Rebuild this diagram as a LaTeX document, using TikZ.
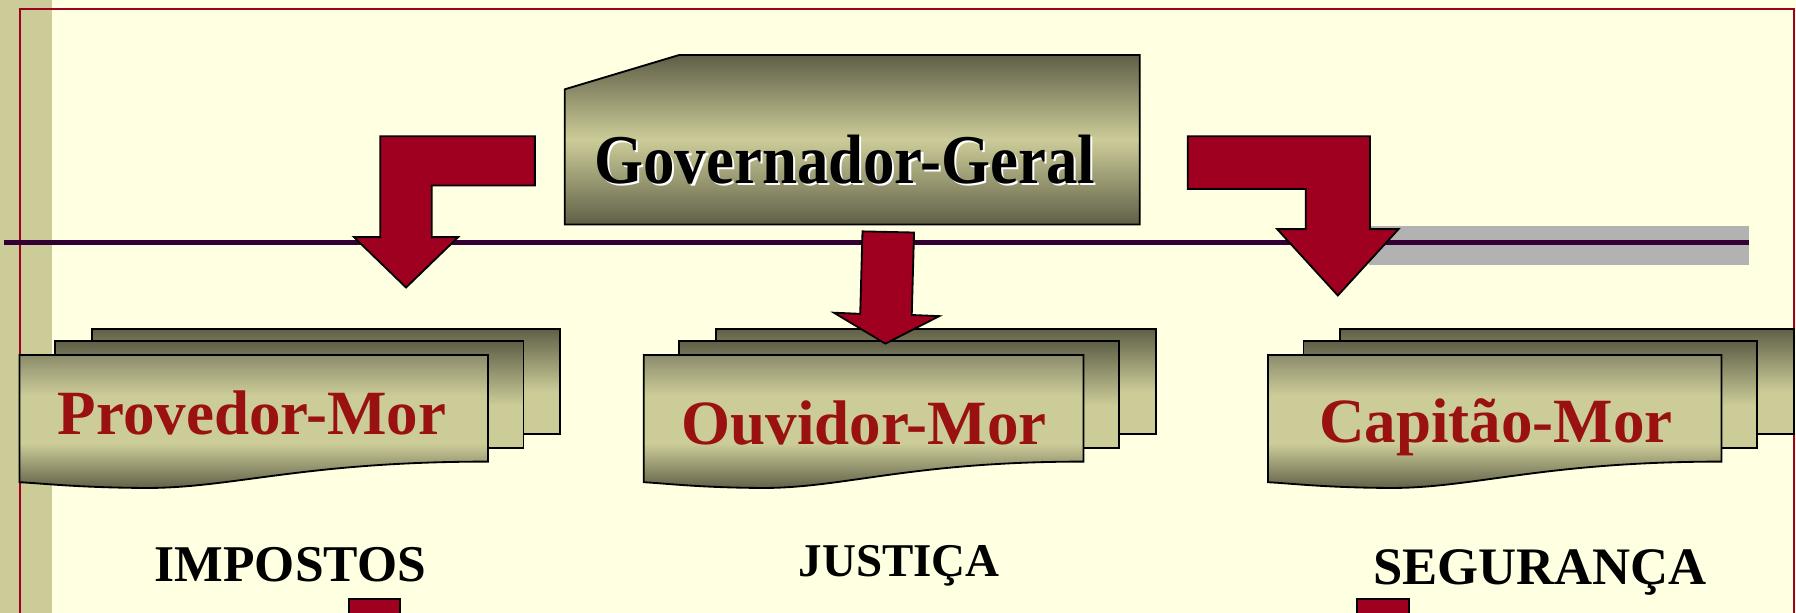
\documentclass[tikz,border=0pt]{standalone}
\usepackage{fontspec}
\setmainfont{Liberation Serif}
\newfontfamily\govfont[FakeStretch=0.9]{Liberation Serif}

\definecolor{bgyellow}{RGB}{255,255,225}
\definecolor{stripbeige}{RGB}{204,204,153}
\definecolor{framered}{RGB}{160,0,32}
\definecolor{linepurple}{RGB}{51,0,51}
\definecolor{bargray}{RGB}{178,178,178}
\definecolor{arrowred}{RGB}{160,0,32}
\definecolor{labelred}{RGB}{153,17,17}
\definecolor{olivedark}{RGB}{95,95,71}
\definecolor{olivelight}{RGB}{204,204,153}
\definecolor{olivemid}{RGB}{140,140,108}

\pgfdeclareverticalshading{govshade}{100bp}{color(0bp)=(olivedark); color(25bp)=(olivedark); color(50bp)=(olivelight); color(75bp)=(olivedark); color(100bp)=(olivedark)}
\pgfdeclareverticalshading{docshade}{100bp}{color(0bp)=(olivedark); color(25bp)=(olivedark); color(42bp)=(olivelight); color(60bp)=(olivelight); color(75bp)=(olivemid); color(100bp)=(olivemid)}
\pgfdeclareverticalshading{backshade}{100bp}{color(0bp)=(olivelight); color(25bp)=(olivelight); color(45bp)=(olivelight); color(75bp)=(olivedark); color(100bp)=(olivedark)}

\tikzset{
  boxline/.style={draw=black, line width=1.6pt},
  govbox/.style={boxline, shade, shading=govshade},
  backbox/.style={boxline, shade, shading=backshade},
  docbox/.style={boxline, shade, shading=docshade},
  bigarrow/.style={fill=arrowred, draw=black, line width=1.6pt},
  office/.style={anchor=base, text=labelred, font=\fontsize{55}{55}\selectfont\bfseries},
  duty/.style={anchor=base, font=\fontsize{45}{45}\selectfont\bfseries},
}

% three stacked sheets: left x of the front sheet, width
\newcommand{\officestack}[2]{
  \draw[backbox] ({#1+63},287) rectangle ({#1+63+#2},379);
  \draw[backbox] ({#1+31},298) rectangle ({#1+31+#2},391);
  \draw[docbox] (#1,310) -- ({#1+#2},310) -- ({#1+#2},403)
    .. controls ({#1+0.6*#2},403) and ({#1+0.45*#2},427) .. ({#1+0.26*#2},426)
    .. controls ({#1+0.12*#2},425.5) and ({#1+0.05*#2},422) .. (#1,421) -- cycle;
}

\begin{document}
\begin{tikzpicture}[x=1pt, y=-1pt]
  \fill[bgyellow] (0,0) rectangle (1568,535);
  \useasboundingbox (0,0) rectangle (1568,535);
  \fill[stripbeige] (0,0) rectangle (45,535);
  \draw[framered, line width=1.8pt] (17.5,560) -- (17.5,7.5) -- (1566.5,7.5) -- (1566.5,560);

  % divider
  \fill[bargray] (1195,197) rectangle (1527,231);
  \draw[linepurple, line width=4pt] (3.5,211.5) -- (1527,211.5);

  % top box
  \draw[govbox] (493,78) -- (593,48) -- (995,48) -- (995,196) -- (493,196) -- cycle;
  \node[anchor=base, text=white, font=\govfont\fontsize{61}{61}\selectfont\bfseries] (govshadow) at (739.5,162) {Governador-Geral};
  \node[anchor=base, font=\govfont\fontsize{61}{61}\selectfont\bfseries] (gov) at (737.5,160) {Governador-Geral};

  % offices
  \officestack{17}{409}
  \officestack{562}{384}
  \officestack{1107}{396}
  \node[office] (prov) at (220,379) {Provedor-Mor};
  \node[office] (ouv) at (754.5,388) {Ouvidor-Mor};
  \node[office] (cap) at (1306,386) {Capitão-Mor};

  % arrows
  \draw[bigarrow] (467,119) -- (467,162) -- (377,162) -- (377,207) -- (400,207) -- (354.5,251)
    -- (309,207) -- (332,207) -- (332,119) -- cycle;
  \draw[bigarrow] (753,202) -- (798,203) -- (796,275) -- (820,276) -- (773,300) -- (728,273)
    -- (751,274) -- cycle;
  \draw[bigarrow] (1037,119) -- (1196,119) -- (1196,200) -- (1221,200) -- (1168,258)
    -- (1115,200) -- (1140,200) -- (1140,165) -- (1037,165) -- cycle;

  % duties
  \node[duty] (impostos) at (253.5,508) {IMPOSTOS};
  \node[duty, font=\fontsize{41}{41}\selectfont\bfseries] (justica) at (785,503) {JUSTIÇA};
  \node[duty, font=\fontsize{46}{46}\selectfont\bfseries] (seguranca) at (1344.5,510) {SEGURANÇA};
  \draw[bigarrow] (305,523) rectangle (349,545);
  \draw[bigarrow] (1185,523) rectangle (1230,545);
\end{tikzpicture}
\end{document}
